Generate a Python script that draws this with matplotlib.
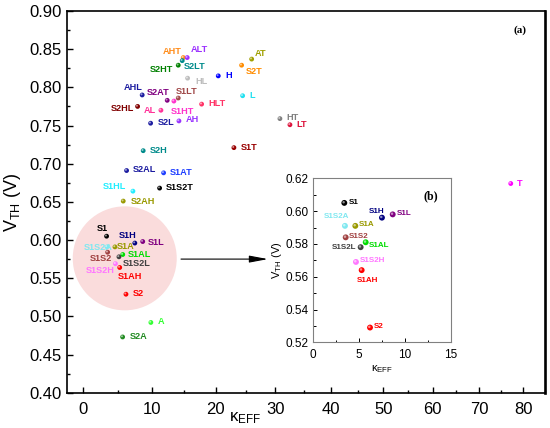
import numpy as np
import matplotlib
matplotlib.use("Agg")
import matplotlib.pyplot as plt
from matplotlib.patches import Circle
from matplotlib.ticker import MultipleLocator, FormatStrFormatter, NullFormatter
from matplotlib.transforms import ScaledTranslation, offset_copy

plt.rcParams["font.family"] = ["Liberation Sans", "DejaVu Sans"]
plt.rcParams["mathtext.fontset"] = "custom"
plt.rcParams["mathtext.rm"] = "Liberation Sans"
plt.rcParams["mathtext.it"] = "Liberation Sans:italic"
plt.rcParams["mathtext.bf"] = "Liberation Sans:bold"

# ---- data: points outside the zoomed cluster --------------------------------
outer_names = ["AHT", "S2LT", "ALT", "S2HT", "AT", "S2T", "H", "HL", "AHL",
               "S2AT", "S1LT", "S1HT", "S2HL", "AL", "HLT", "L", "S2L", "AH",
               "HT", "LT", "S1T", "S2H", "S2AL", "S1AT", "S1HL", "S1S2T",
               "S2AH", "A", "S2A", "T"]
outer_kappa = [14.83, 14.67, 15.45, 14.05, 25.95, 24.26, 20.41, 15.51, 8.57,
               12.35, 14.05, 13.38, 7.89, 11.39, 17.73, 24.43, 9.83, 14.16,
               30.81, 32.57, 22.98, 8.72, 6.27, 11.80, 7.20, 11.19,
               5.78, 9.87, 5.69, 77.11]
outer_vth = [0.839, 0.835, 0.839, 0.829, 0.837, 0.829, 0.815, 0.812, 0.790,
             0.783, 0.786, 0.782, 0.775, 0.770, 0.778, 0.789, 0.753, 0.756,
             0.759, 0.751, 0.721, 0.717, 0.691, 0.688, 0.664, 0.668,
             0.651, 0.492, 0.473, 0.674]
outer_colors = ["#ff8c1a", "#008b8b", "#9b30ff", "#008000", "#a0a000",
                "#ff8c00", "#0000ff", "#bdbdbd", "#1c1ca0", "#800080",
                "#a04848", "#ff33cc", "#800000", "#ff3399", "#ff3366",
                "#22e0f0", "#1c1ca0", "#9933ff", "#808080", "#dc143c",
                "#990000", "#008b8b", "#1c1ca0", "#1f3fff", "#22eeff",
                "#000000", "#999900", "#33ff33", "#228b22", "#ff00ff"]

# ---- data: cluster shown in inset (b) ---------------------------------------
cl_names = ["S1", "S1H", "S1L", "S1S2A", "S1A", "S1S2", "S1AL", "S1S2L",
            "S1S2H", "S1AH", "S2"]
cl_kappa = [3.38, 7.48, 8.65, 3.45, 4.58, 3.53, 5.71, 5.16, 4.65, 5.27, 6.18]
cl_vth = [0.605, 0.596, 0.598, 0.591, 0.591, 0.584, 0.581, 0.578, 0.569,
          0.564, 0.529]
cl_colors = ["#000000", "#000080", "#800080", "#80e8f0", "#999900",
             "#a04040", "#00dd00", "#404040", "#ff77ff", "#ff0000", "#ff0000"]

# label placement (offset in pixels, horizontal alignment)
main_pos = {
    "AHT": (-1.6, 5.6, "right"), "ALT": (3.4, 8, "left"),
    "S2HT": (-5, -4, "right"), "S2LT": (1.7, -6.3, "left"),
    "AT": (3.3, 5.3, "left"), "S2T": (4.3, -6, "left"),
    "H": (6.7, 0.7, "left"), "HL": (7.3, -3.4, "left"),
    "AHL": (0.4, 7.7, "right"), "S2AT": (-20, 7.4, "left"),
    "S1LT": (-2.3, 7, "left"), "S1HT": (-3, -10, "left"),
    "S2HL": (-3.4, -1.6, "right"), "AL": (-5.3, -0.3, "right"),
    "HLT": (6.6, 0.6, "left"), "L": (6.6, 0.7, "left"),
    "S2L": (7.6, 1, "left"), "AH": (7, 1, "left"),
    "HT": (6.7, 1.3, "left"), "LT": (6.7, 0.7, "left"),
    "S1T": (6.7, -0.3, "left"), "S2H": (6.7, 0.3, "left"),
    "S2AL": (6.6, 0.7, "left"), "S1AT": (6.3, 0.4, "left"),
    "S1HL": (-6.3, 4.3, "right"), "S1S2T": (6.3, 0.3, "left"),
    "S2AH": (7.4, 0, "left"), "A": (7.3, 0.7, "left"),
    "S2A": (7.3, 0.4, "left"), "T": (6.6, 0, "left"),
    "S1": (1.6, 8, "right"), "S1H": (1.7, 7.3, "right"),
    "S1L": (5, -0.7, "left"), "S1A": (2.2, 0, "left"),
    "S1S2A": (6, -1, "right"), "S1S2": (4, -6.4, "right"),
    "S1AL": (5.4, 0, "left"), "S1S2L": (3.6, -6.8, "left"),
    "S1S2H": (-0.5, -6.6, "right"), "S1AH": (-1.5, -9.4, "left"),
    "S2": (7.3, 0.3, "left"),
}
inset_pos = {
    "S1": (4, 0.6, "left"), "S1H": (2, 6.6, "right"),
    "S1L": (4, 0.7, "left"), "S1S2A": (4.3, 9, "right"),
    "S1A": (3.7, 1, "left"), "S1S2": (3.6, 1, "left"),
    "S1AL": (3.6, -3, "left"), "S1S2L": (-4.7, -0.3, "right"),
    "S1S2H": (4, 1, "left"), "S1AH": (6.1, -10.6, "center"),
    "S2": (4, 1, "left"),
}


def warp(k):
    return np.log(np.asarray(k, dtype=float) + 119.0)


def unwarp(u):
    return np.exp(u) - 119.0


def balls(ax, x, y, c, s, z=3):
    ax.scatter(x, y, s=s, c=c, edgecolors="none", zorder=z)
    hl = offset_copy(ax.transData, fig=ax.figure, x=-0.5, y=0.5, units="points")
    ax.scatter(x, y, s=s * 0.18, c="white", alpha=0.55, edgecolors="none",
               transform=hl, zorder=z + 0.1)


fig = plt.figure(figsize=(5.5, 4.28), dpi=100)
ax = fig.add_axes([0.1224, 0.0825, 0.8685, 0.8918])
ax.set_xscale("function", functions=(warp, unwarp))
ax.set_xlim(-2.1, 85.1)
ax.set_ylim(0.40, 0.90)

# pink zone around the cluster
zone = Circle((0, 0), 0.52, facecolor="#fadcdc", edgecolor="none", zorder=0,
              transform=fig.dpi_scale_trans
              + ScaledTranslation(6.0, 0.576, ax.transData))
ax.add_patch(zone)

all_names = outer_names + cl_names
all_kappa = outer_kappa + cl_kappa
all_vth = outer_vth + cl_vth
all_colors = outer_colors + cl_colors
balls(ax, all_kappa, all_vth, all_colors, 12)
for n, k, v, c in zip(all_names, all_kappa, all_vth, all_colors):
    dx, dy, ha = main_pos[n]
    ax.annotate(n, (k, v), xytext=(dx, dy), textcoords="offset pixels",
                ha=ha, va="center", fontsize=6.6, fontweight="bold", color=c,
                zorder=4)

ax.xaxis.set_major_locator(MultipleLocator(10))
ax.xaxis.set_minor_locator(MultipleLocator(5))
ax.xaxis.set_major_formatter(FormatStrFormatter("%d"))
ax.xaxis.set_minor_formatter(NullFormatter())
ax.yaxis.set_major_locator(MultipleLocator(0.05))
ax.yaxis.set_minor_locator(MultipleLocator(0.025))
ax.yaxis.set_major_formatter(FormatStrFormatter("%.2f"))
ax.tick_params(which="both", direction="in", top=False, right=False,
               labelsize=12, width=1.0)
ax.tick_params(which="major", length=4.5)
ax.tick_params(which="minor", length=2.5)
ax.tick_params(axis="x", pad=6.5)
ax.tick_params(axis="y", pad=4)
for side in ["left", "bottom", "top"]:
    ax.spines[side].set_linewidth(1.2)
ax.spines["right"].set_linewidth(1.9)

ax.set_xlabel("κ$_{\\mathrm{EFF}}$", fontsize=12)
ax.xaxis.set_label_coords(0.372, -0.045)
ax.set_ylabel("V$_{\\mathrm{TH}}$ (V)", fontsize=13)
ax.yaxis.set_label_coords(-0.093, 0.5)
ax.text(0.948, 0.950, "(a)", transform=ax.transAxes, ha="center",
        va="center", fontsize=8, fontweight="bold", family="Liberation Serif")

ax.annotate("", xy=(0.420, 0.350), xytext=(0.238, 0.350),
            xycoords="axes fraction",
            arrowprops=dict(arrowstyle="-|>,head_length=0.8,head_width=0.15",
                            color="k", lw=0.8, shrinkA=0, shrinkB=0,
                            mutation_scale=14))

# ---- inset (b) ---------------------------------------------------------------
axi = fig.add_axes([0.5696, 0.2002, 0.2504, 0.3832])
axi.set_xlim(0, 15)
axi.set_ylim(0.52, 0.62)
balls(axi, cl_kappa, cl_vth, cl_colors, 18)
for n, k, v, c in zip(cl_names, cl_kappa, cl_vth, cl_colors):
    dx, dy, ha = inset_pos[n]
    axi.annotate(n, (k, v), xytext=(dx, dy), textcoords="offset pixels",
                 ha=ha, va="center", fontsize=5.8, fontweight="bold", color=c,
                 zorder=4)
axi.xaxis.set_major_locator(MultipleLocator(5))
axi.xaxis.set_minor_locator(MultipleLocator(2.5))
axi.yaxis.set_major_locator(MultipleLocator(0.02))
axi.yaxis.set_minor_locator(MultipleLocator(0.01))
axi.yaxis.set_major_formatter(FormatStrFormatter("%.2f"))
axi.tick_params(which="both", direction="in", top=False, right=False,
                labelsize=8.5, width=0.7)
axi.tick_params(which="major", length=3)
axi.tick_params(which="minor", length=1.8)
axi.tick_params(axis="x", pad=5)
axi.tick_params(axis="y", pad=3.6)
for sp in axi.spines.values():
    sp.set_color("#808080")
    sp.set_linewidth(0.8)
axi.set_xlabel("κ$_{\\mathrm{EFF}}$", fontsize=8)
axi.xaxis.set_label_coords(0.5, -0.125)
axi.set_ylabel("V$_{\\mathrm{TH}}$ (V)", fontsize=8)
axi.yaxis.set_label_coords(-0.213, 0.5)
axi.text(0.85, 0.888, "(b)", transform=axi.transAxes, ha="center",
         va="center", fontsize=8.5, fontweight="bold",
         family="Liberation Serif")

fig.savefig("out.png", dpi=100)
